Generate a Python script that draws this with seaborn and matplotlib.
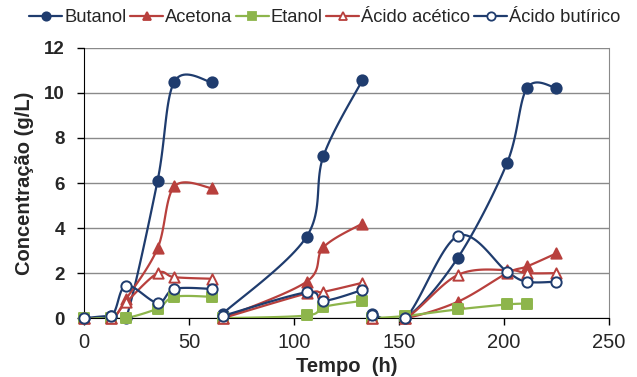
import numpy as np
import pandas as pd
import matplotlib
matplotlib.use("Agg")
import matplotlib.pyplot as plt
from matplotlib.lines import Line2D
import seaborn as sns

# tempos de cada ciclo (h)
t1 = [0, 13, 20, 35, 43, 61]
t2 = [66, 106, 114, 132.5]
t3 = [137, 153, 178, 201.5, 211, 225]

butanol = [[0, 0.1, 0, 6.1, 10.5, 10.47], [0.2, 3.62, 7.2, 10.56], [0.2, 0, 2.68, 6.9, 10.22, 10.22]]
acetona = [[0, 0, 0.85, 3.1, 5.85, 5.77], [0, 1.62, 3.15, 4.2], [0, 0, 0.73, 2.0, 2.3, 2.88]]
etanol = [[0, 0, 0, 0.43, 0.95, 0.95], [0, 0.12, 0.5, 0.77], [0, 0.1, 0.39, 0.61, 0.65]]
acetico = [[0, 0, 0.7, 2.0, 1.82, 1.75], [0, 1.1, 1.17, 1.57], [0, 0, 1.92, 2.14, 2.0, 2.0]]
butirico = [[0, 0.1, 1.45, 0.68, 1.3, 1.3], [0.1, 1.15, 0.77, 1.25], [0.15, 0, 3.65, 2.06, 1.62, 1.62]]
tempos_etanol = [t1, t2, t3[:5]]
tempos = [t1, t2, t3]

navy = "#1F3C6E"
red = "#B8403D"
green = "#8DB54B"

series = [
    ("Butanol", butanol, tempos, navy, "o", True),
    ("Acetona", acetona, tempos, red, "^", True),
    ("Etanol", etanol, tempos_etanol, green, "s", True),
    ("Ácido acético", acetico, tempos, red, "^", False),
    ("Ácido butírico", butirico, tempos, navy, "o", False),
]

# escala aproximada em pixels para suavizar as linhas como no Excel
SX, SY = 2.1, 22.47


def smooth(t, v, n=24):
    p = np.c_[np.array(t) * SX, np.array(v) * SY]
    out = [p[0]]
    for i in range(len(p) - 1):
        p0 = p[i - 1] if i > 0 else p[i]
        p1, p2 = p[i], p[i + 1]
        p3 = p[i + 2] if i + 2 < len(p) else p[i + 1]
        c1 = p1 + (p2 - p0) / 6
        c2 = p2 - (p3 - p1) / 6
        s = np.linspace(0, 1, n)[1:, None]
        b = (1 - s) ** 3 * p1 + 3 * (1 - s) ** 2 * s * c1 + 3 * (1 - s) * s ** 2 * c2 + s ** 3 * p2
        out.extend(b)
    out = np.array(out)
    return out[:, 0] / SX, out[:, 1] / SY


sns.set_style("white")
plt.rcParams["font.family"] = ["Liberation Sans", "DejaVu Sans"]

fig = plt.figure(figsize=(6.37, 3.77), dpi=100)
ax = fig.add_axes([0.132, 0.156, 0.824, 0.717])

for nome, vals, ts, cor, mk, cheio in series:
    for t, v in zip(ts, vals):
        xs, ys = smooth(t, v)
        sns.lineplot(x=xs, y=ys, ax=ax, color=cor, lw=1.6, sort=False, estimator=None, zorder=3)
        pts = pd.DataFrame({"t": t, "v": v})
        sns.scatterplot(data=pts, x="t", y="v", ax=ax, marker=mk, s=55 if mk != "s" else 45,
                        color=cor if cheio else "white", edgecolor=cor, linewidth=1.4,
                        zorder=4, clip_on=False)

ax.set_xlim(0, 250)
ax.set_ylim(0, 12)
ax.set_xticks(range(0, 251, 50))
ax.set_yticks(range(0, 13, 2))
ax.grid(axis="y", color="#8A8A8A", lw=1)
ax.set_axisbelow(True)
ax.spines["top"].set_visible(False)
ax.spines["right"].set_color("#8A8A8A")
ax.spines["left"].set_color("black")
ax.spines["bottom"].set_color("black")
ax.tick_params(axis="both", direction="out", length=5, width=1, color="black", left=True, bottom=True)
ax.tick_params(axis="y", labelsize=13.5, pad=9)
ax.tick_params(axis="x", labelsize=14.5, pad=6)
for lb in ax.get_yticklabels():
    lb.set_fontweight("bold")
ax.set_xlabel("Tempo  (h)", fontsize=14.5, fontweight="bold", labelpad=3)
ax.set_ylabel("Concentração (g/L)", fontsize=14.5, fontweight="bold", labelpad=7)

handles = [Line2D([0], [0], color=c, marker=m, lw=1.6, markersize=6,
                  markerfacecolor=c if f else "white", markeredgecolor=c, markeredgewidth=1.3)
           for _, _, _, c, m, f in series]
fig.legend(handles, [s[0] for s in series], loc="upper center", bbox_to_anchor=(0.51, 1.0),
           ncol=5, frameon=False, fontsize=13.2, handlelength=1.8, handletextpad=0.1,
           columnspacing=0.2, borderaxespad=0.1)

plt.savefig("out.png", dpi=100)
